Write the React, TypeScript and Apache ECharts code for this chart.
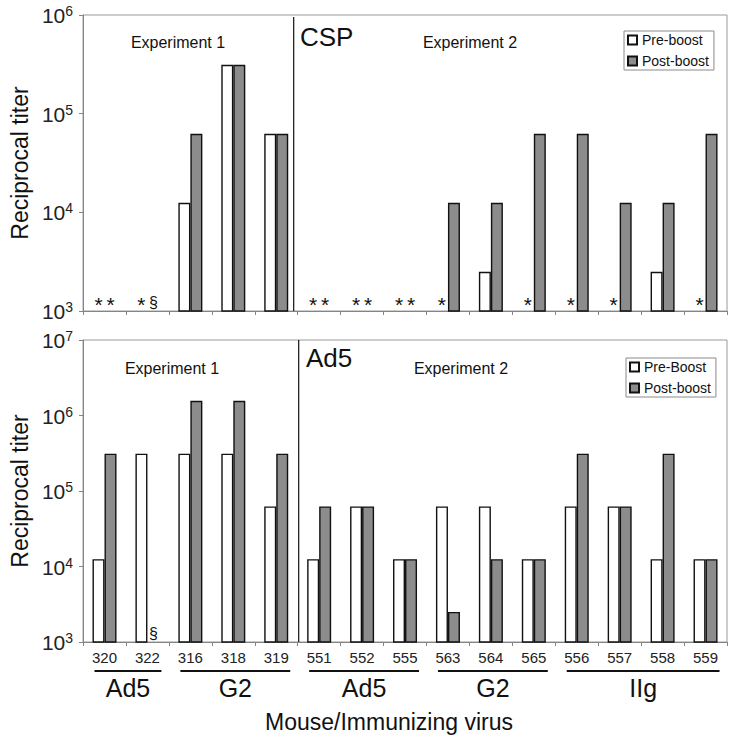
import React, { useEffect, useRef } from 'react';
import * as echarts from 'echarts';

const mice = ['320', '322', '316', '318', '319', '551', '552', '555', '563', '564', '565', '556', '557', '558', '559'];

// CSP panel (null = below detection; mark shown instead)
const cspPre = [null, null, 12500, 312500, 62500, null, null, null, null, 2500, null, null, null, 2500, null];
const cspPost = [null, null, 62500, 312500, 62500, null, null, null, 12500, 12500, 62500, 62500, 12500, 12500, 62500];
const cspPreMark = ['*', '*', '', '', '', '*', '*', '*', '*', '', '*', '*', '*', '', '*'];
const cspPostMark = ['*', '§', '', '', '', '*', '*', '*', '', '', '', '', '', '', ''];

// Ad5 panel
const ad5Pre = [12500, 312500, 312500, 312500, 62500, 12500, 62500, 12500, 62500, 62500, 12500, 62500, 62500, 12500, 12500];
const ad5Post = [312500, null, 1562500, 1562500, 312500, 62500, 62500, 12500, 2500, 12500, 12500, 312500, 62500, 312500, 12500];
const ad5PreMark = ['', '', '', '', '', '', '', '', '', '', '', '', '', '', ''];
const ad5PostMark = ['', '§', '', '', '', '', '', '', '', '', '', '', '', '', ''];

const groupLabels = ['Ad5', 'G2', 'Ad5', 'G2', 'IIg'];
const groupFrom = [0, 2, 5, 8, 11];
const groupTo = [1, 4, 7, 10, 14];

const FONT = '"Liberation Sans", Arial, sans-serif';
const AXIS_GRAY = '#858585';
const POST_GRAY = '#8c8c8c';

function buildData(vals: (number | null)[], marks: string[]) {
  return vals.map((v, i) => {
    if (v != null) return v;
    if (marks[i]) {
      return {
        value: 1000,
        itemStyle: { borderWidth: 0, color: 'transparent' },
        label: {
          show: true,
          formatter: marks[i],
          position: 'top',
          distance: marks[i] === '*' ? -4 : 1,
          fontSize: marks[i] === '*' ? 21 : 16,
          color: '#111',
          fontFamily: FONT,
        },
      };
    }
    return null;
  });
}

function yAxisCfg(gridIndex: number, max: number) {
  return {
    type: 'log',
    logBase: 10,
    gridIndex,
    min: 1000,
    max,
    name: 'Reciprocal titer',
    nameLocation: 'middle',
    nameGap: 45,
    nameTextStyle: { fontSize: 23, color: '#111', fontFamily: FONT },
    axisLine: { show: true, lineStyle: { color: AXIS_GRAY, width: 1 } },
    axisTick: { show: true, length: 4, lineStyle: { color: AXIS_GRAY } },
    splitLine: { show: false },
    axisLabel: {
      margin: 10,
      formatter: (v: number) => '{b|10}{s|' + Math.round(Math.log10(v)) + '}',
      rich: {
        b: { fontSize: 21, color: '#222', fontFamily: FONT, lineHeight: 22, verticalAlign: 'bottom' },
        s: { fontSize: 14, color: '#222', fontFamily: FONT, lineHeight: 22, verticalAlign: 'top', padding: [0, 0, 9, 0] },
      },
    },
  };
}

function xAxisCfg(gridIndex: number, showLabel: boolean) {
  return {
    type: 'category',
    gridIndex,
    data: mice,
    axisLine: { show: true, lineStyle: { color: AXIS_GRAY, width: 1 } },
    axisTick: { show: true, length: 4, lineStyle: { color: AXIS_GRAY } },
    axisLabel: { show: showLabel, fontSize: 15, color: '#222', margin: 8, fontFamily: FONT },
    splitLine: { show: false },
  };
}

function barSeries(name: string, axis: number, data: any[], color: string) {
  return {
    type: 'bar',
    name,
    xAxisIndex: axis,
    yAxisIndex: axis,
    data,
    barWidth: 12,
    barGap: '0%',
    itemStyle: { color, borderColor: '#111', borderWidth: 1.4 },
  };
}

function legendCfg(top: number, left: number, names: string[]) {
  return {
    orient: 'vertical',
    left,
    top,
    data: names,
    icon: 'rect',
    itemWidth: 9,
    itemHeight: 9,
    itemGap: 7,
    padding: [2, 5, 2, 3],
    borderColor: '#8a8a8a',
    borderWidth: 1,
    selectedMode: false,
    textStyle: { fontSize: 14, color: '#111', fontFamily: FONT },
  };
}

export default function App() {
  const ref = useRef<HTMLDivElement>(null);
  useEffect(() => {
    if (!ref.current) return;
    const chart = echarts.init(ref.current, null, { renderer: 'svg' });
    const option: any = {
      animation: false,
      backgroundColor: '#fff',
      textStyle: { fontFamily: FONT },
      grid: [
        { left: 81, top: 15, width: 646, height: 296, show: true, borderColor: '#9a9a9a', borderWidth: 1, backgroundColor: 'transparent' },
        { left: 81, top: 340, width: 646, height: 302, show: true, borderColor: '#9a9a9a', borderWidth: 1, backgroundColor: 'transparent' },
      ],
      xAxis: [xAxisCfg(0, false), xAxisCfg(1, true)],
      yAxis: [yAxisCfg(0, 1e6), yAxisCfg(1, 1e7)],
      legend: [
        legendCfg(31, 624, ['Pre-boost', 'Post-boost']),
        legendCfg(358, 626, ['Pre-Boost', 'Post-boost']),
      ],
      series: [
        barSeries('Pre-boost', 0, buildData(cspPre, cspPreMark), '#ffffff'),
        barSeries('Post-boost', 0, buildData(cspPost, cspPostMark), POST_GRAY),
        barSeries('Pre-Boost', 1, buildData(ad5Pre, ad5PreMark), '#ffffff'),
        barSeries('Post-boost', 1, buildData(ad5Post, ad5PostMark), POST_GRAY),
      ],
    };
    chart.setOption(option);

    const px = (ax: number, i: number) => chart.convertToPixel({ xAxisIndex: ax } as any, mice[i]) as number;
    const py = (ax: number, v: number) => chart.convertToPixel({ yAxisIndex: ax } as any, v) as number;

    const sepTopX = (px(0, 4) + px(0, 5)) / 2 - 4;
    const sepBotX = (px(1, 4) + px(1, 5)) / 2 + 1;
    const graphics: any[] = [
      { type: 'line', shape: { x1: sepTopX, y1: py(0, 1e6) + 2, x2: sepTopX, y2: py(0, 1000) }, style: { stroke: '#111', lineWidth: 1.2 } },
      { type: 'line', shape: { x1: sepBotX, y1: py(1, 1e7), x2: sepBotX, y2: py(1, 1000) }, style: { stroke: '#111', lineWidth: 1.2 } },
      { type: 'text', x: 178, y: 42, style: { text: 'Experiment 1', fontSize: 16, fill: '#111', fontFamily: FONT, textAlign: 'center', textVerticalAlign: 'middle' } },
      { type: 'text', x: 470, y: 42, style: { text: 'Experiment 2', fontSize: 16, fill: '#111', fontFamily: FONT, textAlign: 'center', textVerticalAlign: 'middle' } },
      { type: 'text', x: 300, y: 37, style: { text: 'CSP', fontSize: 26, fill: '#111', fontFamily: FONT, textAlign: 'left', textVerticalAlign: 'middle' } },
      { type: 'text', x: 172, y: 368, style: { text: 'Experiment 1', fontSize: 16, fill: '#111', fontFamily: FONT, textAlign: 'center', textVerticalAlign: 'middle' } },
      { type: 'text', x: 461, y: 368, style: { text: 'Experiment 2', fontSize: 16, fill: '#111', fontFamily: FONT, textAlign: 'center', textVerticalAlign: 'middle' } },
      { type: 'text', x: 306, y: 358, style: { text: 'Ad5', fontSize: 26, fill: '#111', fontFamily: FONT, textAlign: 'left', textVerticalAlign: 'middle' } },
      { type: 'text', x: 389, y: 722, style: { text: 'Mouse/Immunizing virus', fontSize: 23, fill: '#111', fontFamily: FONT, textAlign: 'center', textVerticalAlign: 'middle' } },
    ];
    groupLabels.forEach((lab, g) => {
      const x1 = px(1, groupFrom[g]) - 10;
      const x2 = px(1, groupTo[g]) + 14;
      graphics.push({ type: 'line', shape: { x1, y1: 671, x2, y2: 671 }, style: { stroke: '#111', lineWidth: 2 } });
      graphics.push({ type: 'text', x: (x1 + x2) / 2, y: 688, style: { text: lab, fontSize: 25, fill: '#111', fontFamily: FONT, textAlign: 'center', textVerticalAlign: 'middle' } });
    });
    chart.setOption({ graphic: graphics });

    return () => chart.dispose();
  }, []);
  return <div ref={ref} style={{ position: 'absolute', left: 0, top: 0, width: 739, height: 738 }} />;
}
